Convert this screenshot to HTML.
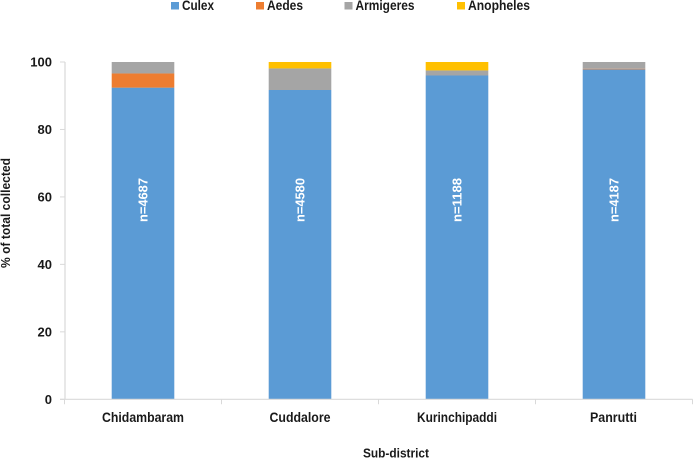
<!DOCTYPE html>
<html lang="en">
<head>
<meta charset="utf-8">
<title>Mosquito genera by sub-district</title>
<style>
html,body{margin:0;padding:0;background:#fff;}
#chart{display:block;width:693px;height:459px;}
text{font-family:"Liberation Sans",sans-serif;font-weight:700;fill:#1a1a1a;}
</style>
</head>
<body>
<svg id="chart" xmlns="http://www.w3.org/2000/svg" width="693" height="459" viewBox="0 0 693 459"></svg>
<script>
var categories = ["Chidambaram", "Cuddalore", "Kurinchipaddi", "Panrutti"];
var sampleLabels = ["n=4687", "n=4580", "n=1188", "n=4187"];
var seriesNames = ["Culex", "Aedes", "Armigeres", "Anopheles"];
var culex = [92.4, 91.7, 96.0, 97.8];
var aedes = [4.2, 0, 0, 0.2];
var armigeres = [3.4, 6.4, 1.5, 2.0];
var anopheles = [0, 1.9, 2.5, 0];
var yTicks = [0, 20, 40, 60, 80, 100];

var svg = document.getElementById('chart');
var NS = 'http://www.w3.org/2000/svg';
var colors = ['#5b9bd5', '#ed7d31', '#a5a5a5', '#ffc000'];
var allSeries = [culex, aedes, armigeres, anopheles];
var plotLeft = 64.5, plotRight = 692.5, plotTop = 62, plotBottom = 399.3;
var barWidth = 62.6;

function yScale(v) { return plotBottom - (v / 100) * (plotBottom - plotTop); }
function bandWidth() { return (plotRight - plotLeft) / categories.length; }
function xCenter(i) { return plotLeft + bandWidth() * (i + 0.5); }
function make(tag, attrs, text) {
  var el = document.createElementNS(NS, tag);
  for (var k in attrs) el.setAttribute(k, attrs[k]);
  if (text !== undefined) el.textContent = text;
  svg.appendChild(el);
  return el;
}
function slug(s) { return s.toLowerCase().replace(/[^a-z0-9]+/g, '-').replace(/^-|-$/g, ''); }

// y axis
var yAxis = make('line', {x1: 65, x2: 65, y1: plotTop, y2: plotBottom, stroke: '#d9d9d9', 'stroke-width': 1.2});



yTicks.forEach(function (t) {
  var y = yScale(t);
  var tick = make('line', {x1: 60, x2: 65, y1: y, y2: y, stroke: '#d9d9d9', 'stroke-width': 1});
  
  
  var label = make('text', {x: 52, y: y + 4.5, 'text-anchor': 'end', 'font-size': 13}, String(t));
  
  
});

// bars
categories.forEach(function (c, i) {
  var cum = 0;
  allSeries.forEach(function (s, j) {
    var v = s[i];
    if (v <= 0) return;
    var yTop = yScale(cum + v), yBot = yScale(cum);
    var r = make('rect', {x: xCenter(i) - barWidth / 2, y: yTop, width: barWidth, height: yBot - yTop, fill: colors[j]});
    
    
    cum += v;
  });
  var lx = xCenter(i) + 4.5, ly = 200;
  var n = make('text', {x: lx, y: ly, transform: 'rotate(-90 ' + lx + ' ' + ly + ')', 'text-anchor': 'middle', 'font-size': 12.5, style: 'fill:#fff;font-weight:700', textLength: 44, lengthAdjust: 'spacingAndGlyphs'}, sampleLabels[i]);
  
  
});

// x axis
var xAxis = make('line', {x1: 60, x2: plotRight, y1: plotBottom, y2: plotBottom, stroke: '#d9d9d9', 'stroke-width': 1.2});



for (var b = 0; b <= categories.length; b++) {
  var tx = plotLeft + bandWidth() * b;
  var xt = make('line', {x1: tx, x2: tx, y1: plotBottom, y2: plotBottom + 5, stroke: '#d9d9d9', 'stroke-width': 1});
  
  
}

var categoryLabelWidths = [82, 61, 80, 47];
categories.forEach(function (c, i) {
  var cl = make('text', {x: xCenter(i) + (i === 3 ? -0.5 : 0), y: 422, 'text-anchor': 'middle', 'font-size': 13.5, textLength: categoryLabelWidths[i], lengthAdjust: 'spacingAndGlyphs'}, c);
  
  
});

// axis titles
var xTitle = make('text', {x: 396, y: 457.5, 'text-anchor': 'middle', 'font-size': 13, textLength: 66, lengthAdjust: 'spacingAndGlyphs'}, 'Sub-district');


var yTitle = make('text', {x: 10, y: 213, transform: 'rotate(-90 10 213)', 'text-anchor': 'middle', 'font-size': 13, textLength: 110, lengthAdjust: 'spacingAndGlyphs'}, '% of total collected');



// legend
var legendX = [171, 256, 344.5, 457];
var legendW = [32, 36, 59, 62];
seriesNames.forEach(function (name, j) {
  var sw = make('rect', {x: legendX[j], y: 2, width: 8, height: 7.5, fill: colors[j]});
  
  
  var lt = make('text', {x: legendX[j] + 11, y: 10, 'font-size': 13.5, textLength: legendW[j], lengthAdjust: 'spacingAndGlyphs'}, name);
  
  
});
</script>
</body>
</html>
